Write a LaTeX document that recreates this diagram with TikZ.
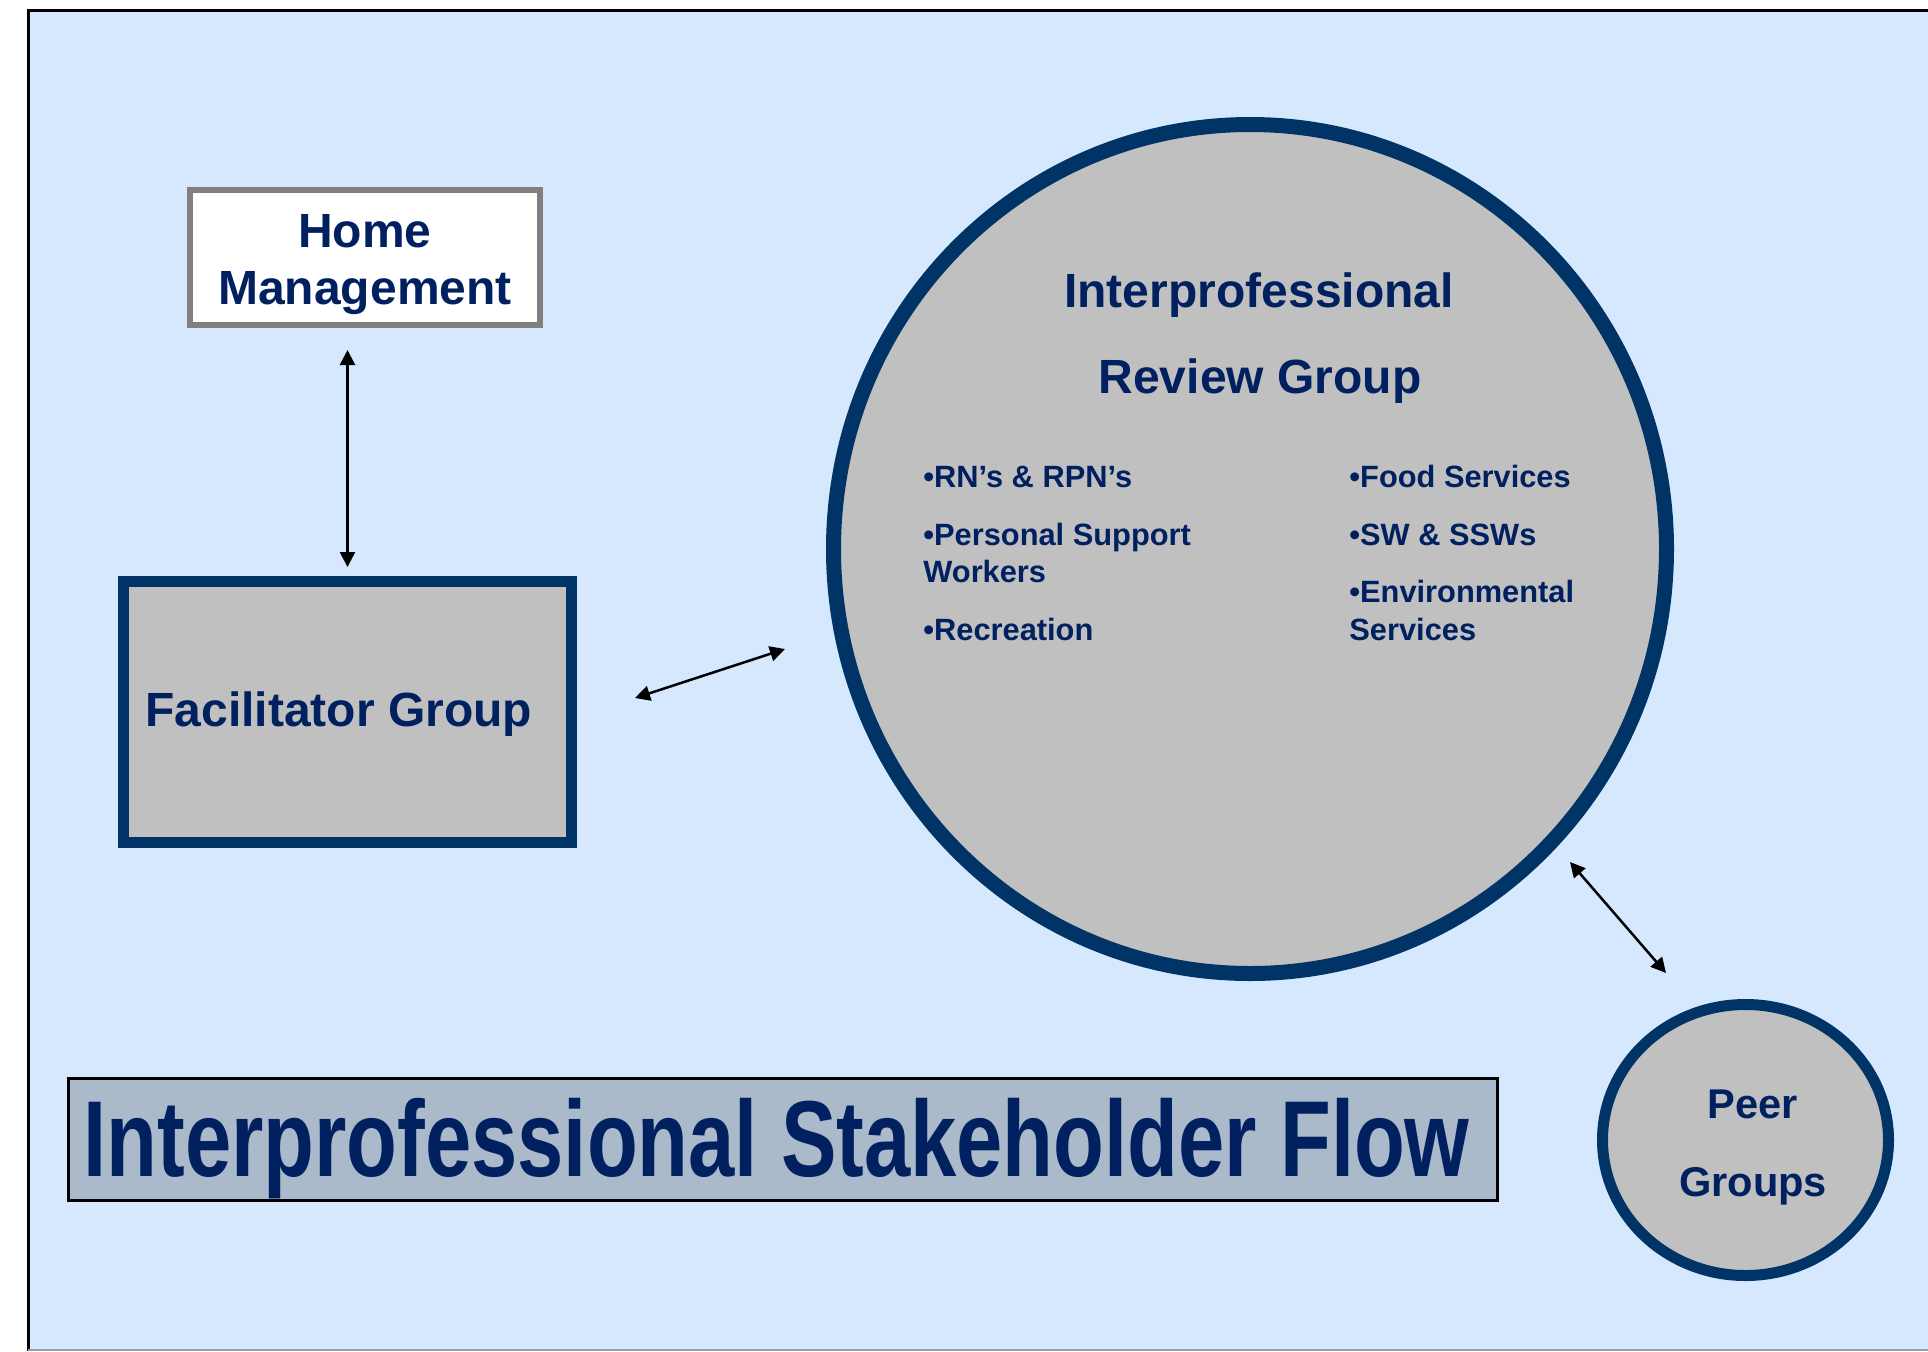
\documentclass[tikz,border=0pt]{standalone}
\usepackage{fontspec}
\setmainfont{Liberation Sans}
\newfontfamily\titlefont{Liberation Sans}[FakeStretch=0.77]
\usetikzlibrary{shapes.geometric,arrows.meta}
\definecolor{bgblue}{RGB}{213,232,253}
\definecolor{navyline}{RGB}{0,51,102}
\definecolor{navytext}{RGB}{0,32,96}
\definecolor{boxgray}{RGB}{192,192,192}
\definecolor{titlefill}{RGB}{170,186,202}
\definecolor{framegray}{RGB}{128,128,128}
\tikzset{
  shapebox/.style={inner sep=0pt, outer sep=0pt},
  bigtext/.style={text=navytext, font=\fontsize{24}{28}\selectfont\bfseries, inner sep=0pt, anchor=base},
  itemtext/.style={text=navytext, font=\fontsize{15.4}{18}\selectfont\bfseries, inner sep=0pt, anchor=base west},
  peertext/.style={text=navytext, font=\fontsize{20.8}{24}\selectfont\bfseries, inner sep=0pt, anchor=base},
  biarrow/.style={line width=1.25pt, {Triangle[length=7.5pt,width=7.5pt]}-{Triangle[length=7.5pt,width=7.5pt]}}
}
\begin{document}
\begin{tikzpicture}[x=0.5pt,y=-0.5pt]
\useasboundingbox (0,0) rectangle (1928,1351);
% background panel
\fill[bgblue] (28,10) rectangle (1928,1350);
\draw[black, line width=1.5pt] (28,1351) -- (28,10) -- (1928,10);
\draw[framegray!70!bgblue, line width=0.75pt] (28,1350) -- (1928,1350);

% shapes
\node[shapebox, rectangle, draw=framegray, line width=3pt, fill=white,
      minimum width=175pt, minimum height=67.5pt] (home) at (365,257.5) {};
\node[shapebox, rectangle, draw=navyline, line width=5.5pt, fill=boxgray,
      minimum width=224pt, minimum height=130.5pt] (fac) at (347.5,712) {};
\node[shapebox, ellipse, draw=navyline, line width=7.5pt, fill=boxgray,
      minimum width=416.5pt, minimum height=424.5pt] (irg) at (1250,549) {};
\node[shapebox, ellipse, draw=navyline, line width=5.5pt, fill=boxgray,
      minimum width=143pt, minimum height=135.5pt] (peer) at (1745.5,1140) {};
\node[shapebox, rectangle, draw=black, line width=1.5pt, fill=titlefill,
      minimum width=714.5pt, minimum height=61pt] (titlebox) at (783,1139.5) {};

% texts
\node[bigtext] (homeA) at (365,247) {Home};
\node[bigtext] (homeB) at (365,304) {Management};
\node[bigtext, anchor=base west] (facT) at (145,726) {Facilitator Group};
\node[bigtext] (irgA) at (1259,307) {Interprofessional};
\node[bigtext] (irgB) at (1260,393) {Review Group};

\node[itemtext] (l1) at (923,487) {•RN’s \& RPN’s};
\node[itemtext] (l2) at (923,545) {•Personal Support};
\node[itemtext] (l3) at (923,582) {Workers};
\node[itemtext] (l4) at (923,640) {•Recreation};
\node[itemtext] (r1) at (1349,487) {•Food Services};
\node[itemtext] (r2) at (1349,545) {•SW \& SSWs};
\node[itemtext] (r3) at (1349,602) {•Environmental};
\node[itemtext] (r4) at (1349,640) {Services};

\node[peertext] (peerA) at (1753,1118) {Peer};
\node[peertext] (peerB) at (1753,1196) {Groups};

\node[text=navytext, inner sep=0pt, anchor=base west,
      font=\titlefont\fontsize{54}{60}\selectfont\bfseries] (titleT) at (83,1176)
      {Interprofessional Stakeholder Flow};

% connectors
\draw[biarrow, shorten <=12.5pt, shorten >=7.25pt] (fac.north |- home.south) -- (fac.north);
\coordinate (d1) at (635,698);
\coordinate (d2) at (785,649);
\draw[biarrow] (d1) -- (d2);
\coordinate (p1) at (1570,862);
\coordinate (p2) at (1666,973);
\draw[biarrow] (p1) -- (p2);
\end{tikzpicture}
\end{document}
